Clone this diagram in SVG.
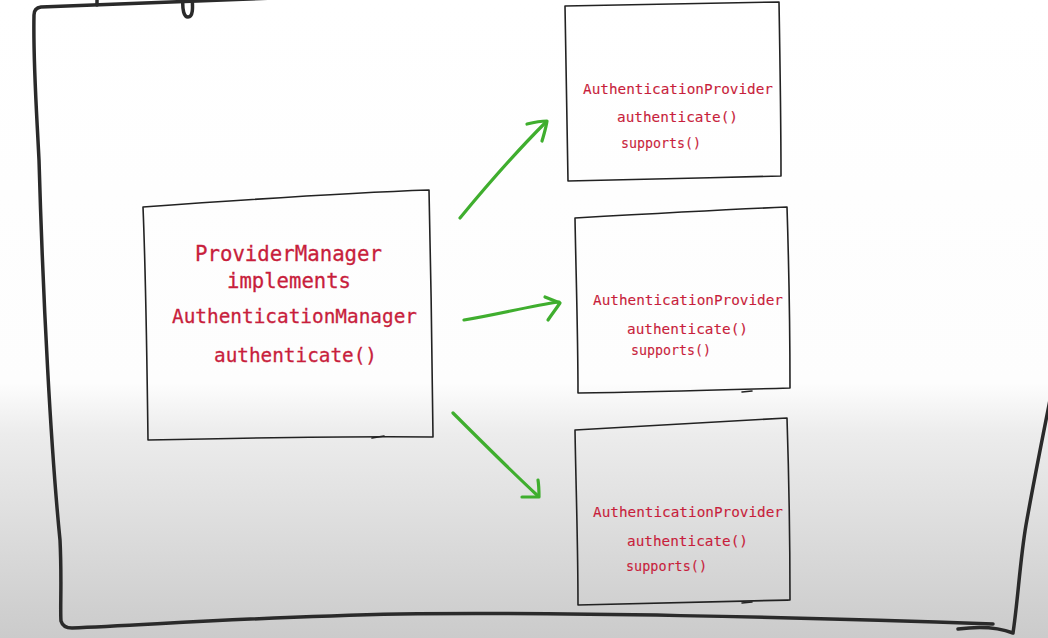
<svg xmlns="http://www.w3.org/2000/svg" width="1048" height="638" viewBox="0 0 1048 638">
  <defs>
    <linearGradient id="bg" x1="0" y1="0" x2="0" y2="638" gradientUnits="userSpaceOnUse">
      <stop offset="0" stop-color="#ffffff"/>
      <stop offset="0.6" stop-color="#fdfdfd"/>
      <stop offset="0.68" stop-color="#ececec"/>
      <stop offset="1" stop-color="#cbcbcb"/>
    </linearGradient>
  </defs>
  <style>
    .frame { fill: none; stroke: #2a2a2a; stroke-width: 3.5; stroke-linecap: round; stroke-linejoin: round; }
    .box { fill: none; stroke: #222222; stroke-width: 1.6; stroke-linejoin: round; stroke-linecap: round; }
    .arrow { fill: none; stroke: #3fae2e; stroke-width: 3.2; stroke-linecap: round; stroke-linejoin: round; }
    .t { font-family: "DejaVu Sans Mono", "Liberation Mono", monospace; fill: #c81e3c; }
    .big { stroke: #c81e3c; stroke-width: 0.3; }
    .small { stroke: #c81e3c; stroke-width: 0.12; }
  </style>
  <rect x="0" y="0" width="1048" height="638" fill="url(#bg)"/>

  <g id="frame">
    <path class="frame" d="M 300 -3 C 200 1, 120 4, 41 7 Q 34 8, 34 15 C 33 60, 36 100, 39 160 C 43 300, 51 450, 60 540 C 62 580, 60 610, 61 621 Q 63 628, 72 628 C 150 625, 250 617, 400 614 C 550 612, 800 617, 993 624"/>
    <path class="frame" d="M 958 629 C 980 626, 1000 628, 1013 633 C 1018 600, 1020 560, 1026 525 C 1034 480, 1042 440, 1052 390"/>
    <path class="frame" d="M 183 -2 C 182 10, 184 17, 188 17 C 193 17, 193 8, 192 -2"/>
    <path class="frame" d="M 97 -2 L 97 5"/>
  </g>

  <g id="provider-manager">
    <path class="box" d="M 143 207 C 240 200, 340 193, 429 190 C 431 270, 432 360, 433 437 C 340 436, 240 438, 148 440 C 147 360, 146 280, 143 207 Z"/>
    <path class="box" d="M 372 438 L 384 436"/>
    <text class="t big" x="195" y="261" font-size="20.8" textLength="187" lengthAdjust="spacingAndGlyphs">ProviderManager</text>
    <text class="t big" x="227" y="288" font-size="20.6" textLength="124" lengthAdjust="spacingAndGlyphs">implements</text>
    <text class="t big" x="172" y="323" font-size="19.4" textLength="245" lengthAdjust="spacingAndGlyphs">AuthenticationManager</text>
    <text class="t big" x="214" y="362" font-size="19.4" textLength="163" lengthAdjust="spacingAndGlyphs">authenticate()</text>
  </g>

  <g id="provider-1">
    <path class="box" d="M 565 6 C 640 4, 710 3, 779 2 C 780 60, 781 120, 781 176 C 710 178, 640 179, 568 181 C 567 120, 566 60, 565 6 Z"/>
    <text class="t small" x="583" y="94" font-size="14.4" textLength="190" lengthAdjust="spacingAndGlyphs">AuthenticationProvider</text>
    <text class="t small" x="617" y="122" font-size="14.4" textLength="121" lengthAdjust="spacingAndGlyphs">authenticate()</text>
    <text class="t small" x="621" y="148" font-size="13.4" textLength="80" lengthAdjust="spacingAndGlyphs">supports()</text>
  </g>

  <g id="provider-2">
    <path class="box" d="M 575 218 C 645 214, 715 210, 787 207 C 789 270, 790 330, 790 388 C 720 390, 650 392, 578 393 C 578 335, 576 275, 575 218 Z"/>
    <path class="box" d="M 742 392 L 752 391"/>
    <text class="t small" x="593" y="305" font-size="14.4" textLength="190" lengthAdjust="spacingAndGlyphs">AuthenticationProvider</text>
    <text class="t small" x="627" y="334" font-size="14.4" textLength="121" lengthAdjust="spacingAndGlyphs">authenticate()</text>
    <text class="t small" x="631" y="355" font-size="13.4" textLength="80" lengthAdjust="spacingAndGlyphs">supports()</text>
  </g>

  <g id="provider-3">
    <path class="box" d="M 575 430 C 645 426, 715 422, 787 418 C 789 480, 790 540, 790 600 C 720 602, 650 603, 578 605 C 578 545, 576 490, 575 430 Z"/>
    <path class="box" d="M 742 603 L 752 602"/>
    <text class="t small" x="593" y="517" font-size="14.4" textLength="190" lengthAdjust="spacingAndGlyphs">AuthenticationProvider</text>
    <text class="t small" x="627" y="546" font-size="14.4" textLength="121" lengthAdjust="spacingAndGlyphs">authenticate()</text>
    <text class="t small" x="626" y="571" font-size="13.4" textLength="81" lengthAdjust="spacingAndGlyphs">supports()</text>
  </g>

  <g id="connectors">
    <path class="arrow" d="M 460 218 C 488 184, 515 153, 546 122"/>
    <path class="arrow" d="M 527 124 C 535 122, 541 121, 547 121 C 546 128, 544 134, 542 141"/>
    <path class="arrow" d="M 464 320 C 500 314, 530 306, 559 302"/>
    <path class="arrow" d="M 545 297 C 550 299, 555 301, 560 303 C 556 309, 552 314, 548 320"/>
    <path class="arrow" d="M 453 413 C 480 440, 510 470, 538 496"/>
    <path class="arrow" d="M 538 480 C 539 486, 539 492, 539 497 C 533 497, 527 497, 522 497"/>
  </g>
</svg>
